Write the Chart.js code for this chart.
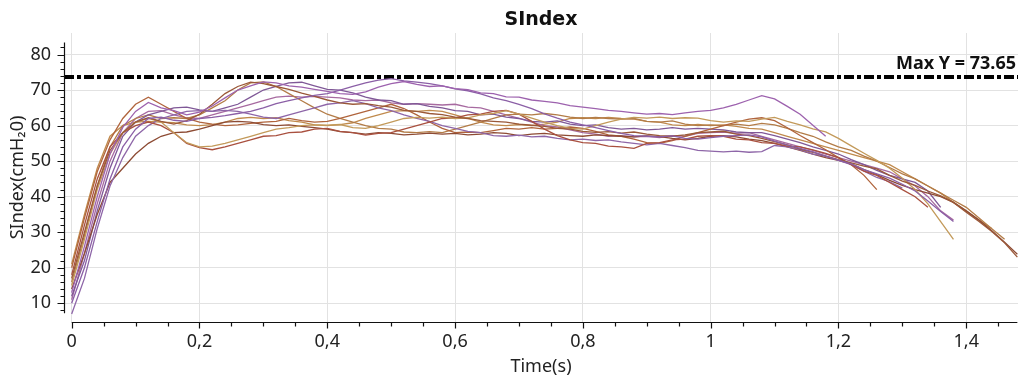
<!DOCTYPE html>
<html>
<head>
<meta charset="utf-8">
<script src="https://cdn.jsdelivr.net/npm/chart.js@4"></script>
<style>
  html, body { margin: 0; padding: 0; background: #fff; }
</style>
</head>
<body>
<canvas id="c" width="1022" height="379"></canvas>
<script>
// time axis (s), shared by all trials
const times = [
  0, 0.02, 0.04, 0.06, 0.08, 0.10, 0.12, 0.14, 0.16, 0.18,
  0.20, 0.22, 0.24, 0.26, 0.28, 0.30, 0.32, 0.34, 0.36, 0.38,
  0.40, 0.42, 0.44, 0.46, 0.48, 0.50, 0.52, 0.54, 0.56, 0.58,
  0.60, 0.62, 0.64, 0.66, 0.68, 0.70, 0.72, 0.74, 0.76, 0.78,
  0.80, 0.82, 0.84, 0.86, 0.88, 0.90, 0.92, 0.94, 0.96, 0.98,
  1.00, 1.02, 1.04, 1.06, 1.08, 1.10, 1.12, 1.14, 1.16, 1.18,
  1.20, 1.22, 1.24, 1.26, 1.28, 1.30, 1.32, 1.34, 1.36, 1.38,
  1.40, 1.42, 1.44, 1.46, 1.48
];

// SIndex per trial (cmH2O)
const trial1 = [
  13, 26, 40, 52, 59.5, 64, 66.5, 65, 64.2, 63,
  63.8, 65.5, 67.8, 70, 71.2, 72.3, 72, 71.2, 70.8, 70.2,
  69.6, 69, 68.8, 69.5, 70.8, 71.8, 72.4, 71.6, 71, 71.2,
  70.4, 70.1, 69.2, 69, 68.1, 68, 67.2, 66.8, 66.4, 65.6,
  65.2, 64.8, 64.3, 64, 63.6, 63.2, 63.4, 63.1, 63.6, 64,
  64.3, 65, 66, 67.2, 68.4, 67.5, 65.4, 63.2, 60.1, 57
];
const trial2 = [
  10, 20, 33, 45, 54, 59, 62, 62.4, 61.5, 61.2,
  62, 62.3, 62.8, 63.4, 64, 65, 66.2, 67, 67.8, 68.5,
  69, 70, 71, 72, 72.8, 73.2, 72.6, 72.2, 71.8, 71.2,
  70.3, 69.8, 68.9, 67.8, 67, 66, 64.8, 63.3, 62.1, 61,
  60.2, 59.4, 58.6, 57.8, 57.2, 57, 56.8, 57.1, 56.4, 56.2,
  56.6, 57, 57.2, 57.4, 56.8, 55.6, 54.5, 53.6, 52.6, 51.4,
  50.3, 49.2, 47.6, 46.4, 45.2, 43.5, 41.6, 38.8, 35.8, 33
];
const trial3 = [
  17, 30, 43, 53, 58, 61, 62.2, 61.2, 60.4, 61.4,
  63.2, 66, 69, 71, 72.2, 71.8, 71, 70.2, 69.1, 68.2,
  67.2, 66.4, 66, 66.2, 65.6, 65.2, 64.3, 64, 63.4, 63.1,
  62.4, 62, 61.4, 61.2, 61, 60.4, 60.1, 59.8, 59.2, 59,
  58.4, 58.1, 58.3, 57.9, 58.2, 57.6, 57.2, 57, 57.4, 58,
  58.2, 58.4, 57.6, 57.2, 56.4, 55.5, 54.6, 53.4, 52.5, 51.4,
  50.4, 49.5, 48.6, 47.8, 46, 44.4, 43.2, 41.6, 40.2, 38.4,
  35.6, 33, 30.2, 27, 23
];
const trial4 = [
  15, 28, 42, 52, 58, 61, 62, 61, 58, 55.2,
  54, 54.2, 55, 56, 57, 58, 59, 59.4, 60, 60.2,
  60.1, 60.3, 59.4, 59.2, 60, 61, 62, 62.3, 62.1, 62.4,
  62, 62.2, 63, 63.4, 64.2, 63.2, 62.1, 61, 60, 59.2,
  59, 60, 61, 61.8, 62.3, 62.1, 62.4, 62, 62.2, 62.1,
  61.4, 61, 61.3, 61.2, 61.8, 62.3, 61.2, 60.2, 59.1, 58.2,
  56.4, 54.3, 52.2, 50.2, 48, 45.2, 42, 38, 33, 28
];
const trial5 = [
  18, 32, 45, 54, 58, 60, 61, 60, 58, 55,
  53.8, 53.2, 54, 55, 56, 57, 57.2, 58, 58.2, 59,
  59.2, 58.4, 58, 57.3, 57.8, 58, 59, 60, 61, 62,
  62.2, 63, 63.2, 64, 64.3, 63.2, 61.2, 59, 57.2, 56,
  55.2, 55, 54.2, 54, 53.6, 55, 55.2, 56, 56.2, 57,
  57.2, 57, 56.2, 56, 55.2, 55, 54.2, 54, 53.2, 52.2,
  51, 49, 47.2, 46, 44, 42, 40, 37
];
const trial6 = [
  7, 17, 31, 43, 51, 57, 60, 62, 63, 64,
  64.2, 64, 64.3, 64, 63.2, 62.4, 62, 63, 64, 65,
  66, 66.4, 67, 66.2, 65, 64.2, 63, 62, 61.2, 60,
  59.2, 58.4, 58, 57.2, 57, 57.3, 56.8, 57, 56.4, 56,
  56.2, 55.8, 56, 55.4, 55, 54.6, 55, 54.4, 53.8, 53,
  52.8, 52.6, 52.8, 52.5, 52.7, 54.4, 54, 53.2, 52, 51.4,
  50.2, 49, 47.2, 45.4, 44.2, 42.4
];
const trial7 = [
  14, 24, 35, 44, 48, 52, 55, 57, 58, 58.2,
  59, 60, 61, 61.2, 61, 60.3, 60, 60.2, 59.8, 59.4,
  59, 58.3, 58, 57.6, 58, 57.8, 57.4, 57.6, 57.9, 57.6,
  57.8, 57.4, 57.6, 58, 57.8, 57.2, 57.6, 57.8, 57.4, 57.2,
  57, 57.4, 57.2, 57, 56.8, 57.1, 56.9, 56.4, 56, 56.4,
  57, 57.2, 56.8, 56.2, 55.8, 55, 54, 53, 52, 51,
  50.2, 49.2, 47.6, 46.2, 44.6, 43.2, 42, 41, 40, 38.4,
  36, 33.4, 30.4, 27.2, 23.8
];
const trial8 = [
  20, 34, 47, 56, 62, 66, 68, 66, 64, 62,
  61, 60.4, 60, 60.2, 60.6, 61, 61.2, 62, 61.4, 61,
  61.2, 62, 63, 64, 65, 66, 64.8, 63, 61, 59.2,
  58, 58.2, 58, 58.6, 59.2, 59, 59.4, 59, 59.2, 59.6,
  59.2, 58.4, 57.4, 57, 56.2, 55.2, 55, 55.8, 57, 58,
  59, 60, 61, 61.8, 62.2, 61.4, 59.4, 57.2, 55.2, 53.2,
  51, 49, 46, 42
];
const trial9 = [
  12, 22, 36, 48, 57, 61, 63, 64, 65, 65.2,
  64.4, 64, 65, 66, 68, 70, 71, 72, 72.2, 71.2,
  70.2, 70, 69.2, 68, 67.2, 67, 66, 66.2, 65.4, 65,
  64.2, 64, 63, 63.2, 62.4, 62, 61.2, 61, 61.3, 60.4,
  60, 60.2, 59.4, 59, 59.2, 58.8, 59, 59.4, 59, 59.2,
  59, 58.8, 58.2, 58, 58, 57.2, 56.2, 55.2, 54, 53,
  52, 50.4, 49, 47.4, 46, 45, 44, 41.6, 37
];
const trial10 = [
  16, 29, 43, 54, 60, 62, 63, 62, 62.2, 62,
  63, 65, 67, 70, 72, 72.3, 71, 69, 67, 65,
  63.2, 62, 61, 60, 59.2, 59, 58.2, 58, 58.3, 58,
  59, 60, 61, 62, 63, 63.2, 63, 63.4, 63, 62.4,
  62, 62.3, 62, 61.8, 62, 61.2, 61, 61.3, 60.4, 60,
  60.2, 60, 60.4, 60, 60.6, 60.2, 59.2, 58, 57, 55.4,
  54, 53, 51.4, 50, 48.2, 46.4, 45, 43, 41, 39,
  37, 34, 31, 28
];
const trial11 = [
  11, 24, 38, 50, 58, 62, 64, 64.2, 63, 62.2,
  62, 63, 64, 65, 66, 67, 68, 68.3, 68, 68.2,
  68, 67.8, 67.2, 67, 67.2, 66.4, 66, 66.2, 66, 65.8,
  66, 65.2, 65, 64, 63, 62, 61, 60, 59.6, 58.8,
  58, 57.6, 57, 57.2, 56.8, 57, 56.6, 57.2, 57, 57.8,
  58, 58.2, 57.8, 58, 57, 56, 55, 54, 53, 52,
  51, 50, 49, 48, 47, 45, 43, 40, 36, 33.4
];
const trial12 = [
  21, 35, 48, 57, 60, 61, 61.2, 61, 60.8, 60.2,
  60, 60.3, 61, 62, 62.3, 62, 62.2, 61.4, 61, 60.2,
  60, 60.3, 60.8, 62, 63, 64, 64.2, 64, 64.3, 64,
  63, 62, 61, 60.2, 60, 60.3, 60, 60.4, 61, 62,
  62.2, 62, 62.3, 62, 61.8, 61.2, 61, 60.2, 60, 60.3,
  60, 60.2, 59.8, 59.2, 59, 58, 57, 56, 55, 54,
  53, 52, 51, 50, 49, 47, 45, 43, 41, 38.4,
  36, 33.4, 31
];

const trials = [trial1, trial2, trial3, trial4, trial5, trial6,
                trial7, trial8, trial9, trial10, trial11, trial12];
const trialColors = ['#9d62ae', '#8b5fa6', '#9a5838', '#c39a5a', '#a9503f', '#8e66a8',
                     '#8d4b34', '#b0643c', '#7f5897', '#b37c47', '#a76aa0', '#c08a4c'];

const maxY = 73.65;
const xTicks = [0, 0.2, 0.4, 0.6, 0.8, 1, 1.2, 1.4];
const yTicks = [10, 20, 30, 40, 50, 60, 70, 80];

const FONT = '"Noto Sans", "DejaVu Sans", sans-serif';
const TITLE_FONT = '"DejaVu Sans", Verdana, sans-serif';

const datasets = trials.map((t, k) => ({
  data: t.map((v, i) => ({ x: times[i], y: v })),
  borderColor: trialColors[k],
  borderWidth: 1.3,
}));
datasets.push({
  data: [{ x: -0.012, y: maxY }, { x: 1.481, y: maxY }],
  borderColor: '#000',
  borderWidth: 4,
  borderDash: [10, 3, 4, 3],
});

// axis lines, small ticks, title and the max label
const axesPlugin = {
  id: 'axes',
  afterDraw(chart) {
    const { ctx, chartArea: a, scales: { x, y } } = chart;
    ctx.save();
    ctx.strokeStyle = '#111';
    ctx.lineWidth = 1.2;
    ctx.beginPath();
    const yl = Math.round(a.left) + 0.5;
    ctx.moveTo(yl, y.getPixelForValue(83.4));
    ctx.lineTo(yl, y.getPixelForValue(7.2));
    for (let v = 8; v <= 82; v += 2) {
      const p = Math.round(y.getPixelForValue(v)) + 0.5;
      const len = v % 10 === 0 ? 7 : 4;
      ctx.moveTo(yl - len, p);
      ctx.lineTo(yl, p);
    }
    const xb = Math.round(a.bottom) + 0.5;
    ctx.moveTo(x.getPixelForValue(0), xb);
    ctx.lineTo(x.getPixelForValue(1.48), xb);
    for (let i = 0; i <= 29; i++) {
      const p = Math.round(x.getPixelForValue(i * 0.05)) + 0.5;
      const len = i % 4 === 0 ? 6 : 4;
      ctx.moveTo(p, xb);
      ctx.lineTo(p, xb + len);
    }
    ctx.stroke();

    ctx.fillStyle = '#111';
    ctx.textBaseline = 'middle';
    ctx.textAlign = 'center';
    ctx.font = 'bold 19px ' + TITLE_FONT;
    ctx.fillText('SIndex', (a.left + a.right) / 2, 20);
    ctx.textAlign = 'right';
    ctx.font = 'bold 18px ' + FONT;
    ctx.fillText('Max Y = ' + maxY.toFixed(2), a.right - 2, y.getPixelForValue(maxY) - 13);
    ctx.restore();
  }
};

new Chart(document.getElementById('c').getContext('2d'), {
  type: 'line',
  data: { datasets },
  options: {
    responsive: false,
    animation: false,
    layout: { padding: { top: 33, right: 4, left: 0, bottom: 0 } },
    elements: { point: { radius: 0 }, line: { tension: 0 } },
    plugins: {
      legend: { display: false },
      tooltip: { enabled: false },
      title: { display: false }
    },
    scales: {
      x: {
        type: 'linear',
        min: -0.012,
        max: 1.481,
        afterBuildTicks: s => { s.ticks = xTicks.map(v => ({ value: v })); },
        afterFit: s => { s.height = 57; },
        grid: { color: '#e2e2e2', drawTicks: false },
        border: { display: false },
        ticks: {
          padding: 9, color: '#222', autoSkip: false, maxRotation: 0,
          font: { family: FONT, size: 18 },
          callback: v => String(v).replace('.', ',')
        },
        title: {
          display: true, text: 'Time(s)', color: '#222',
          font: { family: FONT, size: 18 }, padding: { top: 0, bottom: 1 }
        }
      },
      y: {
        min: 4.74,
        max: 86.05,
        afterBuildTicks: s => { s.ticks = yTicks.map(v => ({ value: v })); },
        afterFit: s => { s.width = 64; },
        grid: { color: '#e2e2e2', drawTicks: false },
        border: { display: false },
        ticks: { padding: 13, color: '#222', font: { family: FONT, size: 18 } },
        title: {
          display: true, text: 'SIndex(cmH₂0)', color: '#222',
          font: { family: FONT, size: 18 }, padding: { top: 7, bottom: 0 }
        }
      }
    }
  },
  plugins: [axesPlugin]
});
</script>
</body>
</html>
